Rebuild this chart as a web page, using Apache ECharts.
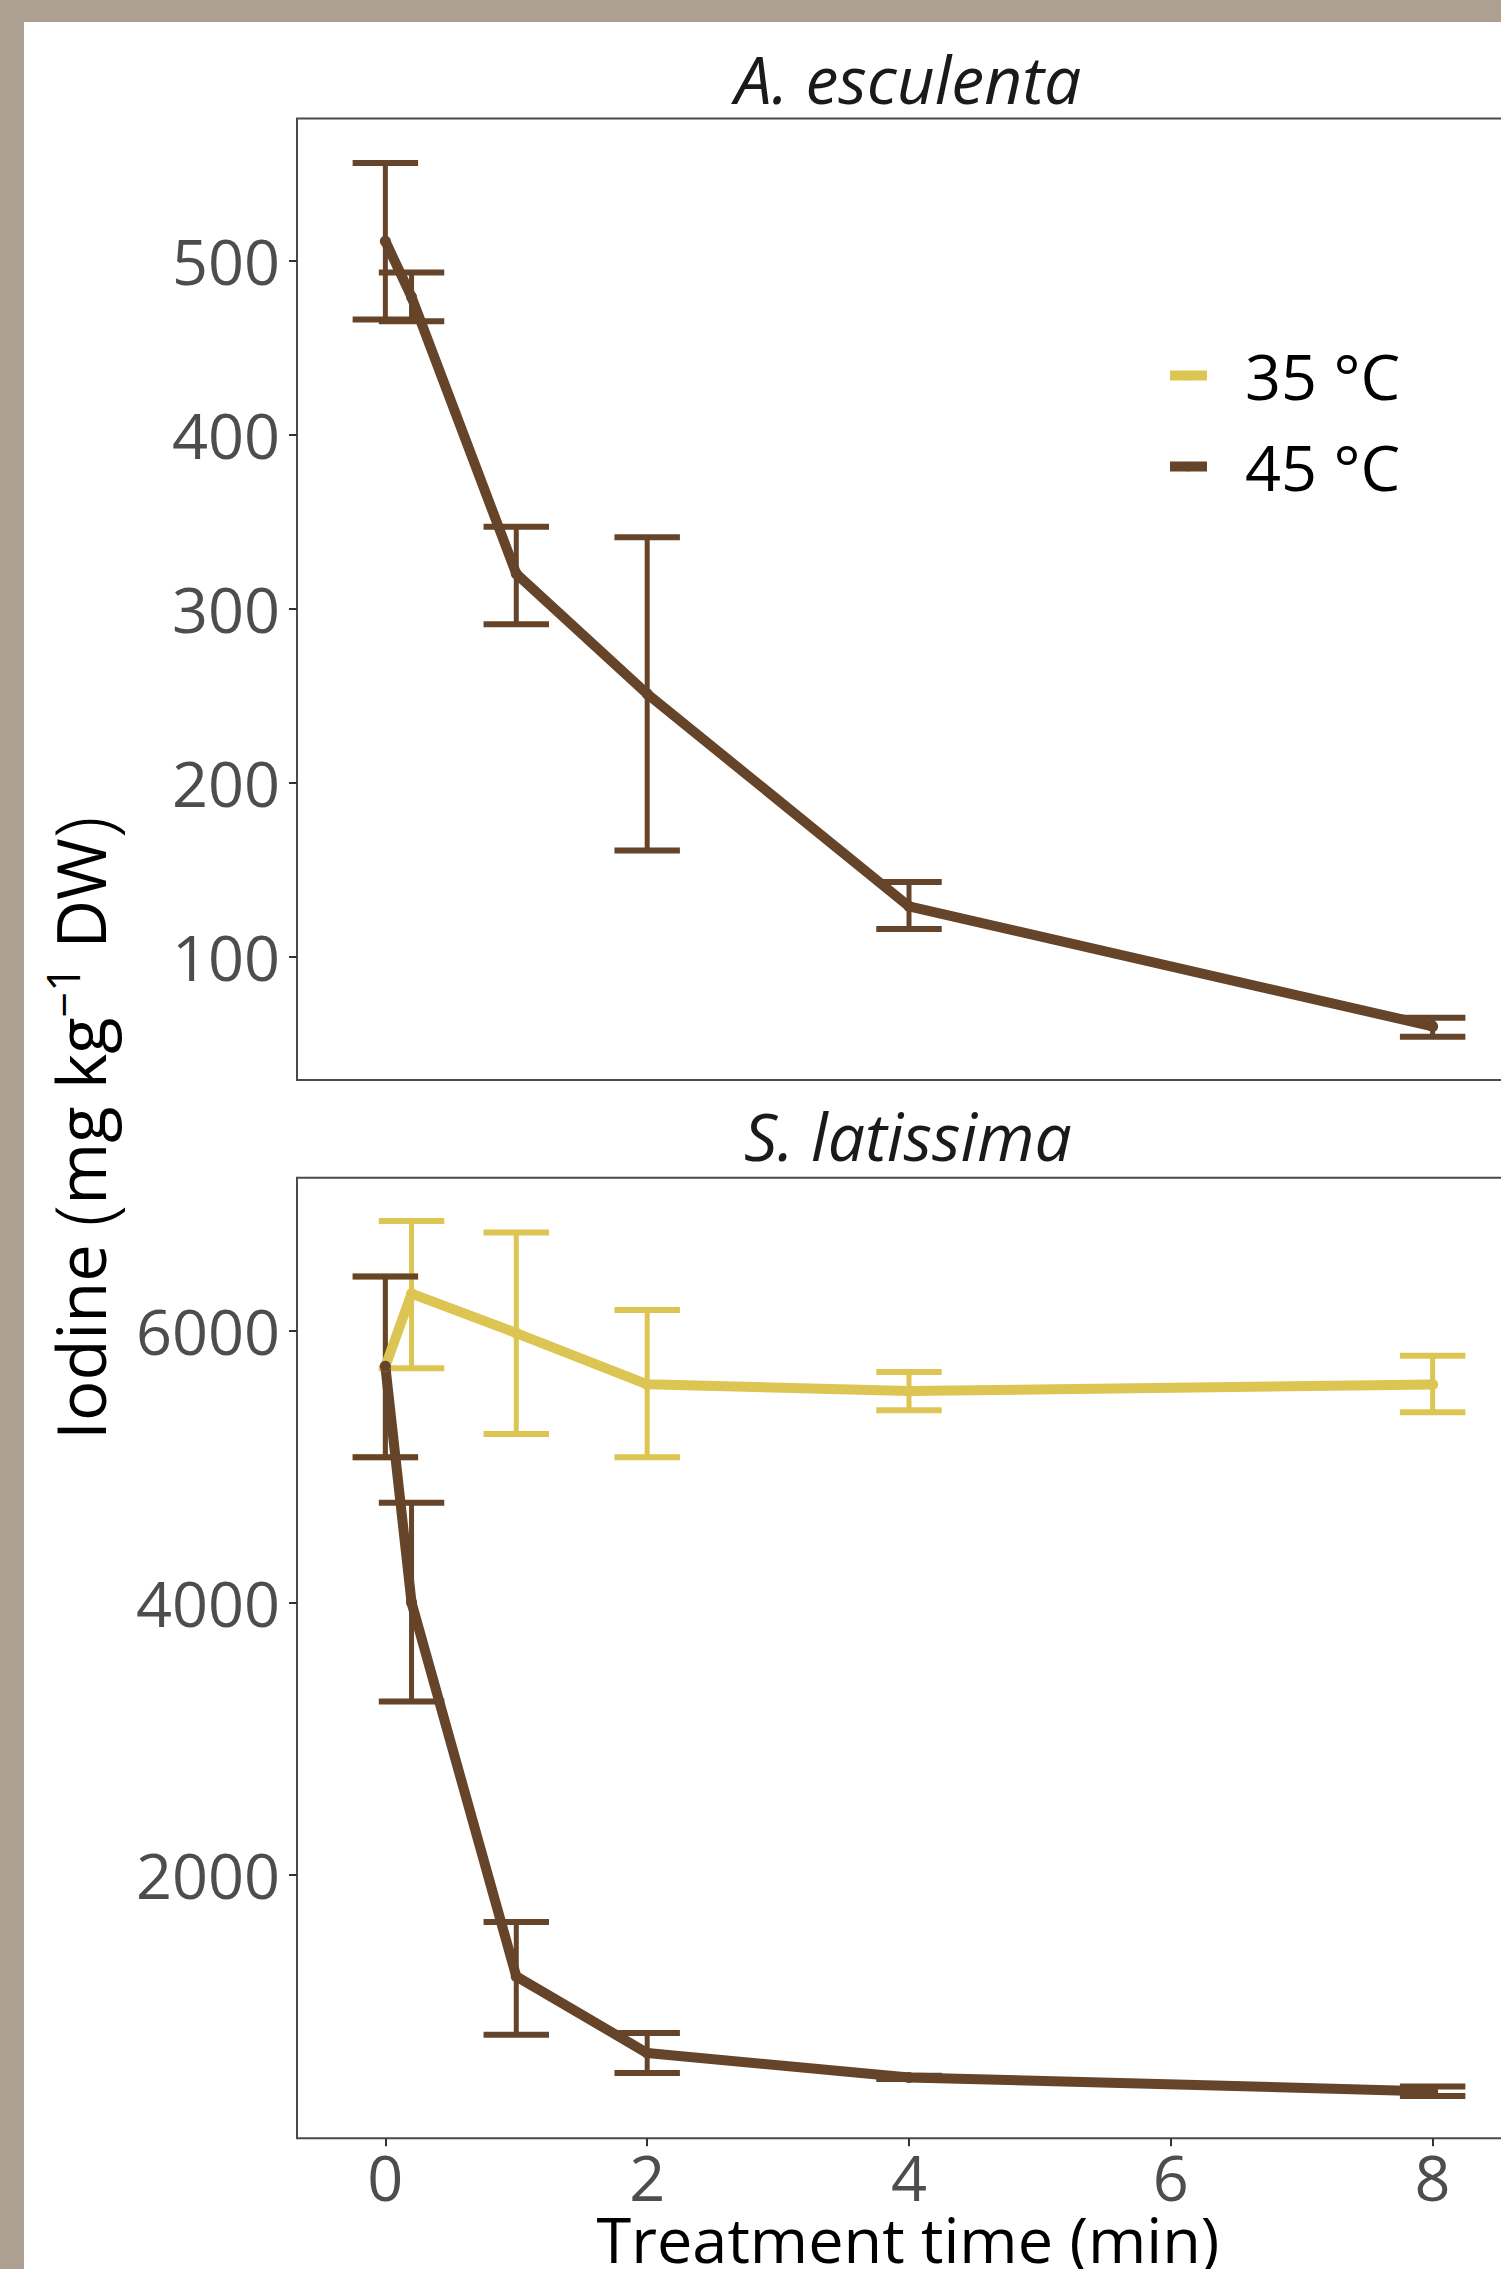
<!DOCTYPE html>
<html>
<head>
<meta charset="utf-8">
<script src="https://cdn.jsdelivr.net/npm/echarts@6/dist/echarts.min.js"></script>
<style>
  html, body { margin: 0; padding: 0; background: #AE9F93; width: 1501px; height: 2269px; overflow: hidden; }
  #chart { position: absolute; left: 24px; top: 22px; width: 1477px; height: 2247px; background: #ffffff; }
</style>
</head>
<body>
<div id="chart"></div>
<script>
// ---- data ----
const times = [0, 0.2, 1, 2, 4, 8];
const xTicks = [0, 2, 4, 6, 8];
const aescTicks = [100, 200, 300, 400, 500];
const slatTicks = [2000, 4000, 6000];

// A. esculenta, 45 °C
const aesc45Mean = [511, 479, 320, 251, 129, 60];
const aesc45Low  = [466, 465, 291, 161, 116, 54];
const aesc45High = [556, 493, 347, 341, 143, 65];

// S. latissima, 35 °C
const slat35Mean = [5737, 6272, 5982, 5605, 5555, 5604];
const slat35Low  = [5069, 5724, 5239, 5068, 5415, 5399];
const slat35High = [6399, 6807, 6722, 6151, 5695, 5815];

// S. latissima, 45 °C
const slat45Mean = [5737, 3999, 1249, 685, 506, 403];
const slat45Low  = [5069, 3272, 820, 538, 494, 370];
const slat45High = [6399, 4733, 1649, 832, 518, 440];

const seriesNames = ['35 °C', '45 °C'];
const colors = { '35 °C': '#DCC552', '45 °C': '#654429' };

// ---- helpers ----
const FONT = "'Open Sans', 'Noto Sans', sans-serif";
const pts = (xs, ys) => xs.map((x, i) => [x, ys[i]]);
const errData = (xs, lo, hi) => xs.map((x, i) => [x, lo[i], hi[i]]);
const CAP = 0.25;

function errRender(color) {
  return function (params, api) {
    const x = api.value(0), lo = api.value(1), hi = api.value(2);
    const pLo = api.coord([x, lo]), pHi = api.coord([x, hi]);
    const xl = api.coord([x - CAP, lo])[0], xr = api.coord([x + CAP, lo])[0];
    const stem = { stroke: color, lineWidth: 5, lineCap: 'butt' };
    const cap = { stroke: color, lineWidth: 6, lineCap: 'butt' };
    return {
      type: 'group',
      children: [
        { type: 'line', shape: { x1: pLo[0], y1: pLo[1], x2: pHi[0], y2: pHi[1] }, style: stem },
        { type: 'line', shape: { x1: xl, y1: pLo[1], x2: xr, y2: pLo[1] }, style: cap },
        { type: 'line', shape: { x1: xl, y1: pHi[1], x2: xr, y2: pHi[1] }, style: cap }
      ]
    };
  };
}

function errSeries(name, idx, xs, lo, hi, color) {
  return {
    name: name, type: 'custom', xAxisIndex: idx, yAxisIndex: idx, z: 2,
    renderItem: errRender(color), encode: { x: 0, y: [1, 2] },
    data: errData(xs, lo, hi), silent: true
  };
}
function lineSeries(name, idx, xs, ys, color) {
  return {
    name: name, type: 'line', xAxisIndex: idx, yAxisIndex: idx, z: 3,
    data: pts(xs, ys), symbol: 'circle', symbolSize: 11, showSymbol: true,
    itemStyle: { color: color }, lineStyle: { color: color, width: 10, join: 'round' },
    animation: false
  };
}

const gridBase = { left: 273, width: 1224, show: true, borderColor: '#4a4a4a', borderWidth: 2, outerBoundsMode: 'none', containLabel: false };

const axisLabelStyle = { fontFamily: FONT, fontSize: 63, color: '#4d4d4d', formatter: v => String(v) };
const tickStyle = { show: true, length: 8, lineStyle: { color: '#333', width: 2 } };
const noLine = { show: false, onZero: false };

const chart = echarts.init(document.getElementById('chart'), null, { renderer: 'svg' });
chart.setOption({
  animation: false,
  backgroundColor: '#ffffff',
  grid: [
    Object.assign({ top: 96.5, height: 961.5 }, gridBase),
    Object.assign({ top: 1155.7, height: 960.6 }, gridBase)
  ],
  xAxis: [
    { type: 'value', gridIndex: 0, min: -0.675, max: 8.675,
      axisLine: noLine, axisTick: { show: false }, axisLabel: { show: false }, splitLine: { show: false } },
    { type: 'value', gridIndex: 1, min: -0.675, max: 8.675, position: 'bottom',
      axisLine: noLine, splitLine: { show: false },
      axisTick: Object.assign({ customValues: xTicks }, tickStyle),
      axisLabel: Object.assign({ customValues: xTicks, margin: 13, lineHeight: 50 }, axisLabelStyle) }
  ],
  yAxis: [
    { type: 'value', gridIndex: 0, min: 29.2, max: 581.5, position: 'left',
      axisLine: noLine, splitLine: { show: false },
      axisTick: Object.assign({ customValues: aescTicks }, tickStyle),
      axisLabel: Object.assign({ customValues: aescTicks, margin: 17 }, axisLabelStyle) },
    { type: 'value', gridIndex: 1, min: 58, max: 7125, position: 'left',
      axisLine: noLine, splitLine: { show: false },
      axisTick: Object.assign({ customValues: slatTicks }, tickStyle),
      axisLabel: Object.assign({ customValues: slatTicks, margin: 17 }, axisLabelStyle) }
  ],
  legend: {
    data: seriesNames, orient: 'vertical', left: 1141, top: 322,
    itemWidth: 37, itemHeight: 12, itemGap: 28, padding: 0,
    lineStyle: { width: 10 },
    textStyle: { fontFamily: FONT, fontSize: 63, color: '#000', padding: [0, 0, 0, 33] },
    selectedMode: false
  },
  graphic: [
    { type: 'text', style: { text: 'A. esculenta', fontFamily: FONT, fontSize: 66, fontStyle: 'italic', fill: '#1a1a1a', align: 'center', verticalAlign: 'middle' }, x: 884, y: 56 },
    { type: 'text', style: { text: 'S. latissima', fontFamily: FONT, fontSize: 66, fontStyle: 'italic', fill: '#1a1a1a', align: 'center', verticalAlign: 'middle' }, x: 884, y: 1113 },
    { type: 'text', style: { text: 'Treatment time (min)', fontFamily: FONT, fontSize: 63, lineHeight: 50, fill: '#000', align: 'center', verticalAlign: 'middle' }, x: 884, y: 2216 },
    { type: 'text', rotation: Math.PI / 2, x: 56, y: 1106,
      style: {
        text: '{a|Iodine }{p|(}{a|mg kg}{s|−1}{a| DW}{p|)}',
        align: 'center', verticalAlign: 'middle', fill: '#000',
        rich: {
          a: { fontFamily: FONT, fontSize: 67, fill: '#000' },
          p: { fontFamily: FONT, fontSize: 80, fontWeight: 300, fill: '#000' },
          s: { fontFamily: FONT, fontSize: 45, fill: '#000', verticalAlign: 'top', padding: [0, 0, 30, 0] }
        }
      }
    }
  ],
  series: [
    errSeries('err35', 1, times, slat35Low, slat35High, colors['35 °C']),
    lineSeries('35 °C', 1, times, slat35Mean, colors['35 °C']),
    errSeries('err45a', 0, times, aesc45Low, aesc45High, colors['45 °C']),
    lineSeries('45 °C', 0, times, aesc45Mean, colors['45 °C']),
    errSeries('err45b', 1, times, slat45Low, slat45High, colors['45 °C']),
    lineSeries('45 °C', 1, times, slat45Mean, colors['45 °C'])
  ]
});
</script>
</body>
</html>
